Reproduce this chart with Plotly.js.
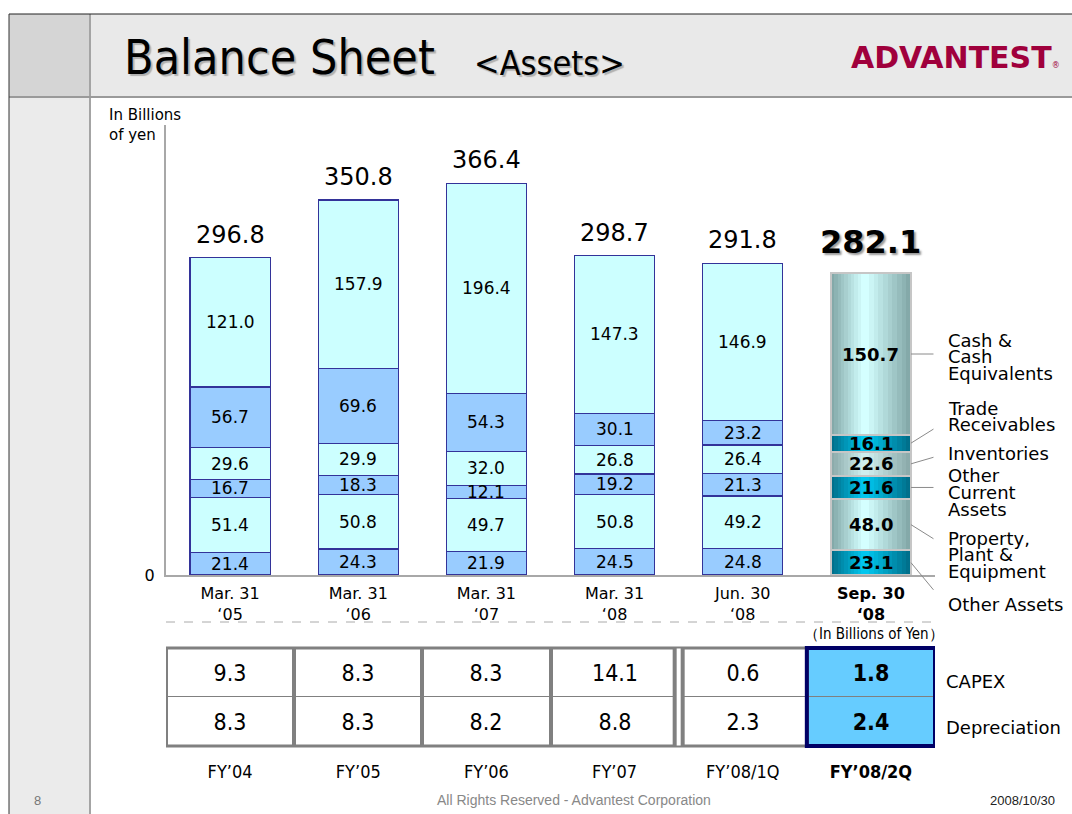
<!DOCTYPE html>
<html><head><meta charset="utf-8">
<script src="https://cdn.plot.ly/plotly-3.0.1.min.js"></script>
<style>html,body{margin:0;padding:0;background:#fff;}#chart{width:1072px;height:814px;}</style>
</head><body><div id="chart"></div>
<script>
// ---------------- data ----------------
const dates = ["Mar. 31", "Mar. 31", "Mar. 31", "Mar. 31", "Jun. 30", "Sep. 30"];
const years = ["‘05", "‘06", "‘07", "‘08", "‘08", "‘08"];
const seriesNames = ["Other Assets", "Property, Plant & Equipment", "Other Current Assets", "Inventories", "Trade Receivables", "Cash & Cash Equivalents"];
const otherAssets      = [21.4, 24.3, 21.9, 24.5, 24.8, 23.1];
const ppe              = [51.4, 50.8, 49.7, 50.8, 49.2, 48.0];
const otherCurrent     = [16.7, 18.3, 12.1, 19.2, 21.3, 21.6];
const inventories      = [29.6, 29.9, 32.0, 26.8, 26.4, 22.6];
const tradeReceivables = [56.7, 69.6, 54.3, 30.1, 23.2, 16.1];
const cash             = [121.0, 157.9, 196.4, 147.3, 146.9, 150.7];
const totals           = [296.8, 350.8, 366.4, 298.7, 291.8, 282.1];
const fiscalYears  = ["FY’04", "FY’05", "FY’06", "FY’07", "FY’08/1Q", "FY’08/2Q"];
const capex        = [9.3, 8.3, 8.3, 14.1, 0.6, 1.8];
const depreciation = [8.3, 8.3, 8.2, 8.8, 2.3, 2.4];
const tableRows = ["Depreciation", "CAPEX"];
const rightLabels = [["Other Assets"], ["Property,", "Plant &", "Equipment"], ["Other", "Current", "Assets"], ["Inventories"], ["Trade", "Receivables"], ["Cash &", "Cash", "Equivalents"]];

// ---------------- helpers / styles ----------------
const W = 1072, H = 814;
const px = v => v / W;
const py = v => 1 - v / H;
const FONT = "DejaVu Sans, Verdana, sans-serif";
const COND = "DejaVu Sans Condensed, DejaVu Sans, sans-serif";
const ARIAL = "Liberation Sans, Arial, sans-serif";
const series = [otherAssets, ppe, otherCurrent, inventories, tradeReceivables, cash];
const idx = dates.map((_, i) => i);
const last = idx.length - 1;
const barW = 0.625;
const navy = '#333399';
const flatColors = ['#99ccff', '#ccffff', '#99ccff', '#ccffff', '#99ccff', '#ccffff'];
const gradEdge   = ['#00708c', '#84a9a9', '#00708c', '#8cabab', '#00708c', '#84a9a9'];
const gradCenter = ['#00c6ee', '#d4ffff', '#00c6ee', '#cfeeee', '#00c6ee', '#d4ffff'];
function hex(c){return [1,3,5].map(k=>parseInt(c.substr(k,2),16));}
function lerp(a,b,t){const A=hex(a),B=hex(b);return 'rgb('+A.map((v,i)=>Math.round(v+(B[i]-v)*t)).join(',')+')';}

const traces = [];
// main stacked bars
series.forEach((s, si) => {
  traces.push({
    type: 'bar', name: seriesNames[si], x: idx, y: s, width: barW,
    xaxis: 'x', yaxis: 'y', hoverinfo: 'skip', showlegend: false,
    marker: {
      color: idx.map(i => i === last ? gradEdge[si] : flatColors[si]),
      line: {color: idx.map(i => i === last ? gradEdge[si] : navy), width: 1.2}
    }
  });
});
// gradient layers for the highlighted (last) bar
const NL = 9;
const extraAxes = {};
for (let k = 1; k <= NL; k++) {
  const axId = 'x' + (k + 2);
  extraAxes['xaxis' + (k + 2)] = {overlaying: 'x', anchor: 'y', range: [-0.5, 5.5], visible: false, fixedrange: true};
  const wk = barW * (1 - k / (NL + 1));
  const off = -wk / 2 - 0.045 * k / NL;
  series.forEach((s, si) => {
    traces.push({
      type: 'bar', x: [idx[last]], y: [s[last]], width: wk, offset: off,
      xaxis: axId, yaxis: 'y', hoverinfo: 'skip', showlegend: false,
      marker: {color: lerp(gradEdge[si], gradCenter[si], k / NL), line: {width: 0}}
    });
  });
}
// outline layer
const outAx = 'x' + (NL + 3);
extraAxes['xaxis' + (NL + 3)] = {overlaying: 'x', anchor: 'y', range: [-0.5, 5.5], visible: false, fixedrange: true};
series.forEach((s, si) => {
  traces.push({
    type: 'bar', x: [idx[last]], y: [s[last]], width: barW,
    xaxis: outAx, yaxis: 'y', hoverinfo: 'skip', showlegend: false,
    marker: {color: 'rgba(0,0,0,0)', line: {color: '#c6c6c6', width: 2}}
  });
});

// table as heatmap
traces.push({
  type: 'heatmap', x: idx, y: [0, 1], xaxis: 'x2', yaxis: 'y2',
  z: tableRows.map(() => idx.map(i => i === last ? 1 : 0)),
  text: [depreciation, capex].map(arr => arr.map((v, i) => i === last ? '<b>' + v.toFixed(1) + '</b>' : v.toFixed(1))),
  texttemplate: '%{text}', textfont: {family: COND, size: 23, color: '#000'},
  colorscale: [[0, '#ffffff'], [1, '#66ccff']], zmin: 0, zmax: 1, showscale: false,
  xgap: 4, ygap: 1, hoverinfo: 'skip'
});

// ---------------- annotations ----------------
const ann = [];
const bottoms = series.map((s, si) => idx.map(i => series.slice(0, si).reduce((a, t) => a + t[i], 0)));
series.forEach((s, si) => {
  idx.forEach(i => {
    ann.push({x: i, y: bottoms[si][i] + s[i] / 2, xref: 'x', yref: 'y', showarrow: false, xanchor: 'center', yanchor: 'middle',
      text: i === last ? '<b>' + s[i].toFixed(1) + '</b>' : s[i].toFixed(1),
      font: {family: FONT, size: i === last ? 18 : 17, color: '#000'}});
  });
});
idx.forEach(i => {
  ann.push({x: i, y: totals[i], xref: 'x', yref: 'y', showarrow: false, xanchor: 'center', yanchor: 'bottom',
    yshift: i === last ? 10 : 7,
    text: i === last ? '<b>' + totals[i].toFixed(1) + '</b>' : totals[i].toFixed(1),
    font: i === last ? {family: FONT, size: 32, color: '#000', shadow: '2px 2px 2px #9a9a9a'} : {family: FONT, size: 24, color: '#000'}});
});
// leader lines
const leadOff = [29, 15, 0, -7, -15, 0];
series.forEach((s, si) => {
  ann.push({x: idx[last] + barW / 2, y: bottoms[si][last] + s[last] / 2, xref: 'x', yref: 'y',
    showarrow: true, arrowhead: 0, arrowwidth: 1, arrowcolor: '#8a8a8a', standoff: 0,
    ax: 24, ay: leadOff[si], axref: 'pixel', ayref: 'pixel', text: ' ', font: {size: 1}});
});
// right-side labels (tight line spacing)
const labelTop = [604, 538, 476, 453, 408, 340];
rightLabels.forEach((lines, li) => {
  lines.forEach((t, j) => {
    ann.push({x: px(946), y: py(labelTop[li] + j * 16.5), xref: 'paper', yref: 'paper', xanchor: 'left', yanchor: 'middle',
      showarrow: false, text: t, font: {family: FONT, size: 18, color: '#000'}});
  });
});
// misc texts
ann.push({x: px(107), y: py(125), xref: 'paper', yref: 'paper', xanchor: 'left', yanchor: 'middle', align: 'left',
  showarrow: false, text: 'In Billions<br>of yen', font: {family: FONT, size: 15, color: '#000'}});
ann.push({x: px(874), y: py(634), xref: 'paper', yref: 'paper', xanchor: 'center', yanchor: 'middle', showarrow: false,
  text: '（In Billions of Yen）', font: {family: COND, size: 15, color: '#000'}});
ann.push({x: px(472), y: py(63), xref: 'paper', yref: 'paper', xanchor: 'left', yanchor: 'middle', showarrow: false,
  text: '&lt;Assets&gt;', font: {family: COND, size: 34, color: '#000', shadow: '2px 2px 1px #b0b0b0'}});
ann.push({x: px(1062), y: py(57), xref: 'paper', yref: 'paper', xanchor: 'right', yanchor: 'middle', showarrow: false,
  text: '<b>ADVANTEST</b><span style="font-size:8px">®</span>', font: {family: FONT, size: 30, color: '#a0003c'}});
ann.push({x: px(37), y: py(800), xref: 'paper', yref: 'paper', xanchor: 'center', yanchor: 'middle', showarrow: false,
  text: '8', font: {family: ARIAL, size: 13, color: '#777'}});
ann.push({x: px(574), y: py(800), xref: 'paper', yref: 'paper', xanchor: 'center', yanchor: 'middle', showarrow: false,
  text: 'All Rights Reserved - Advantest Corporation', font: {family: ARIAL, size: 14, color: '#888'}});
ann.push({x: px(1057), y: py(800), xref: 'paper', yref: 'paper', xanchor: 'right', yanchor: 'middle', showarrow: false,
  text: '2008/10/30', font: {family: ARIAL, size: 13, color: '#222'}});

// ---------------- shapes ----------------
const shapes = [
  {type: 'rect', xref: 'paper', yref: 'paper', x0: px(9), x1: 1, y0: py(97), y1: py(14), fillcolor: '#e9e9e9', line: {width: 0}, layer: 'below'},
  {type: 'rect', xref: 'paper', yref: 'paper', x0: px(9), x1: px(90), y0: py(97), y1: py(14), fillcolor: '#d5d5d5', line: {width: 0}, layer: 'below'},
  {type: 'rect', xref: 'paper', yref: 'paper', x0: px(9), x1: px(90), y0: 0, y1: py(97), fillcolor: '#ebebeb', line: {width: 0}, layer: 'below'},
  {type: 'line', xref: 'paper', yref: 'paper', x0: px(90), x1: px(90), y0: 0, y1: py(14), line: {color: '#a4a4a4', width: 2}, layer: 'below'},
  {type: 'line', xref: 'paper', yref: 'paper', x0: px(9), x1: 1, y0: py(97), y1: py(97), line: {color: '#9a9a9a', width: 2}, layer: 'below'},
  {type: 'line', xref: 'paper', yref: 'paper', x0: px(9), x1: 1, y0: py(14), y1: py(14), line: {color: '#222', width: 1}, layer: 'below'},
  {type: 'line', xref: 'paper', yref: 'paper', x0: px(9), x1: px(9), y0: 0, y1: py(14), line: {color: '#333', width: 1}, layer: 'below'},
  {type: 'line', xref: 'x domain', yref: 'paper', x0: 0, x1: 1, y0: py(622), y1: py(622), line: {color: '#aaaaaa', width: 1, dash: 'dash'}},
  {type: 'rect', xref: 'x2', yref: 'y2 domain', x0: -0.5, x1: 5.5, y0: 0, y1: 1, fillcolor: '#808080', line: {width: 0}, layer: 'below'},
  {type: 'rect', xref: 'x2', yref: 'y2 domain', x0: -0.5, x1: 5.5, y0: 0, y1: 1, line: {color: '#808080', width: 3}},
  {type: 'line', xref: 'x2', yref: 'y2 domain', x0: 3.5, x1: 3.5, y0: 0, y1: 1, line: {color: '#808080', width: 12}},
  {type: 'line', xref: 'x2', yref: 'y2 domain', x0: 3.5, x1: 3.5, y0: 0.005, y1: 0.995, line: {color: '#ffffff', width: 4}},
  {type: 'rect', xref: 'x2', yref: 'y2 domain', x0: 4.5, x1: 5.5, y0: 0, y1: 1, line: {color: '#000066', width: 4}}
];

const tickText = idx.map(i => i === last ? '<b>' + dates[i] + '</b><br><b>' + years[i] + '</b>' : dates[i] + '<br>' + years[i]);
const fyText = idx.map(i => i === last ? '<b>' + fiscalYears[i] + '</b>' : fiscalYears[i]);

const layout = Object.assign({
  width: W, height: H, margin: {l: 0, r: 0, t: 0, b: 0},
  paper_bgcolor: '#ffffff', plot_bgcolor: 'rgba(0,0,0,0)',
  font: {family: FONT, color: '#000'},
  barmode: 'stack', showlegend: false,
  title: {text: 'Balance Sheet', x: px(124), xanchor: 'left', xref: 'paper', y: py(57), yanchor: 'middle', yref: 'paper',
    font: {family: COND, size: 48, color: '#000', shadow: '2px 2px 1px #b0b0b0'}},
  xaxis: {domain: [px(166), px(935)], range: [-0.5, 5.5], anchor: 'y', tickvals: idx, ticktext: tickText,
    showline: true, linecolor: '#a8a8a8', linewidth: 2, ticks: '', showgrid: false, zeroline: false, ticklabelstandoff: 3,
    tickfont: {family: FONT, size: 16, color: '#000'}, fixedrange: true},
  yaxis: {domain: [py(575), py(125)], range: [0, 421], anchor: 'x', tickvals: [0], ticktext: ['0'],
    showline: true, linecolor: '#a8a8a8', linewidth: 2, ticks: '', showgrid: false, zeroline: false,
    tickfont: {family: FONT, size: 16, color: '#000'}, ticklabelstandoff: 6, fixedrange: true},
  xaxis2: {domain: [px(166), px(935)], range: [-0.5, 5.5], anchor: 'y2', tickvals: idx, ticktext: fyText,
    showline: false, ticks: '', showgrid: false, zeroline: false, ticklabelstandoff: 13,
    tickfont: {family: COND, size: 18, color: '#000'}, fixedrange: true},
  yaxis2: {domain: [py(746), py(648)], range: [-0.5, 1.5], anchor: 'x2', side: 'right', tickvals: [-0.12, 0.82], ticktext: tableRows,
    showline: false, ticks: '', showgrid: false, zeroline: false, ticklabelstandoff: 10,
    tickfont: {family: FONT, size: 18, color: '#000'}, fixedrange: true},
  shapes: shapes, annotations: ann
}, extraAxes);

Plotly.newPlot('chart', traces, layout, {staticPlot: true, displayModeBar: false});
</script></body></html>
